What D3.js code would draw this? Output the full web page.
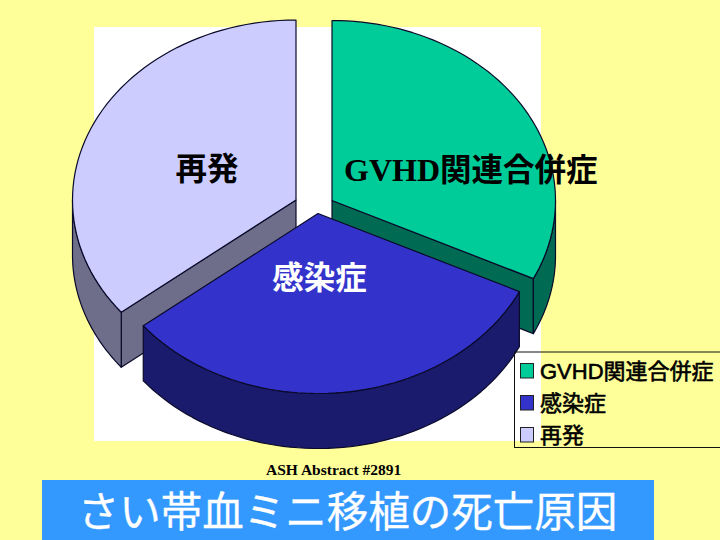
<!DOCTYPE html>
<html lang="ja">
<head>
<meta charset="utf-8">
<script src="https://cdn.jsdelivr.net/npm/d3@7"></script>
<style>
html,body{margin:0;padding:0;background:#FFFF99;overflow:hidden}
svg{display:block}
</style>
</head>
<body>
<svg id="c" width="720" height="540"></svg>
<script>
const categories = ["GVHD関連合併症", "感染症", "再発"];
const values = [9, 9, 10];
const topColors = ["#00CC99", "#3333CC", "#CCCCFF"];
const wallColors = ["#006B52", "#1B1B6E", "#6E6E8A"];
const titleText = "さい帯血ミニ移植の死亡原因";
const sourceText = "ASH Abstract #2891";

const sans = '"Liberation Sans","Noto Sans CJK JP",sans-serif';
const serif = '"Liberation Serif","Noto Sans CJK JP",serif';
const svg = d3.select("#c");

// backdrop
svg.append("rect").attr("width",720).attr("height",540).attr("fill","#FFFF99");
svg.append("rect").attr("x",94).attr("y",27).attr("width",447).attr("height",414).attr("fill","#fff");

// layout: each slice is exploded to its own apex
const apex = [[332,200.5],[318,213.5],[296,200]];
const rx = 223.5, ry = 180, depth = 55;
const pie = d3.pie().value(d=>d).sort(null);
const arcs = pie(values);
const topFill = d3.scaleOrdinal().domain(categories).range(topColors);
const wallFill = d3.scaleOrdinal().domain(categories).range(wallColors);
const line = d3.line();

function pt(i,t,dy=0){
  return [apex[i][0]+rx*Math.sin(t), apex[i][1]-ry*Math.cos(t)+dy];
}
function along(i,a,b,dy=0){
  return d3.range(0,61).map(k=>pt(i,a+(b-a)*k/60,dy));
}
const edge = {stroke:"#0a0a2a","stroke-width":1.2,"stroke-linejoin":"round"};
function draw(d,fill){
  const p = svg.append("path").attr("d",d).attr("fill",fill);
  Object.entries(edge).forEach(([k,v])=>p.attr(k,v));
  return p;
}
function wallOuter(i,a,b){
  return line([...along(i,a,b),...along(i,b,a,depth)])+"Z";
}
function wallInner(i,t){
  const A=[apex[i][0],apex[i][1]], B=pt(i,t);
  return line([A,B,[B[0],B[1]+depth],[A[0],A[1]+depth]])+"Z";
}
function topFace(i,a,b){
  return line([apex[i],...along(i,a,b)])+"Z";
}

// back to front: third, first, then second slice
[2,0,1].forEach(i=>{
  const a=arcs[i], c=categories[i];
  if(i===2){
    draw(wallInner(i,a.startAngle),wallFill(c));
    draw(wallOuter(i,a.startAngle,Math.PI*1.5),wallFill(c));
  } else if(i===0){
    draw(wallInner(i,a.endAngle),wallFill(c));
    draw(wallOuter(i,Math.PI/2,a.endAngle),wallFill(c));
  } else {
    draw(wallOuter(i,a.startAngle,a.endAngle),wallFill(c));
  }
  draw(topFace(i,a.startAngle,a.endAngle),topFill(c));
});

// data labels
function bold(x,y,s,fill,font,size,anchor="start"){
  return svg.append("text").attr("x",x).attr("y",y).attr("fill",fill)
    .attr("font-family",font).attr("font-size",size).attr("font-weight","bold")
    .attr("text-anchor",anchor).text(s);
}
bold(207,180,categories[2],"#000",sans,31.5,"middle");
const g = bold(344,181,"","#000",serif,32);
g.append("tspan").text(categories[0].slice(0,4));
g.append("tspan").attr("font-family",sans).attr("font-size",31.5).text(categories[0].slice(4));
bold(319.5,289,categories[1],"#fff",sans,31.5,"middle");

// legend
svg.append("rect").attr("x",514.5).attr("y",352).attr("width",220).attr("height",95.5)
  .attr("fill","none").attr("stroke","#111").attr("stroke-width",1);
const rowY = d3.scalePoint().domain(categories).range([370.5,434.5]);
const rows = svg.selectAll("g.row").data(categories).join("g").attr("class","row");
rows.append("rect").attr("x",520.5).attr("y",d=>rowY(d)-7).attr("width",13).attr("height",14.5)
  .attr("fill",d=>topFill(d)).attr("stroke","#222").attr("stroke-width",1);
rows.append("text").attr("x",540).attr("y",d=>rowY(d)+8).attr("fill","#000")
  .attr("font-family",sans).attr("font-size",22).attr("stroke","#000").attr("stroke-width",0.6).text(d=>d);

// source note and title
bold(266,475,sourceText,"#000",'"Liberation Serif",serif',15.5);
svg.append("rect").attr("x",42).attr("y",480).attr("width",612).attr("height",60).attr("fill","#3399FF");
svg.append("text").attr("x",347.5).attr("y",527).attr("text-anchor","middle").attr("fill","#fff")
  .attr("font-family",sans).attr("font-size",41.5).attr("stroke","#fff").attr("stroke-width",0.3).text(titleText);
</script>
</body>
</html>
